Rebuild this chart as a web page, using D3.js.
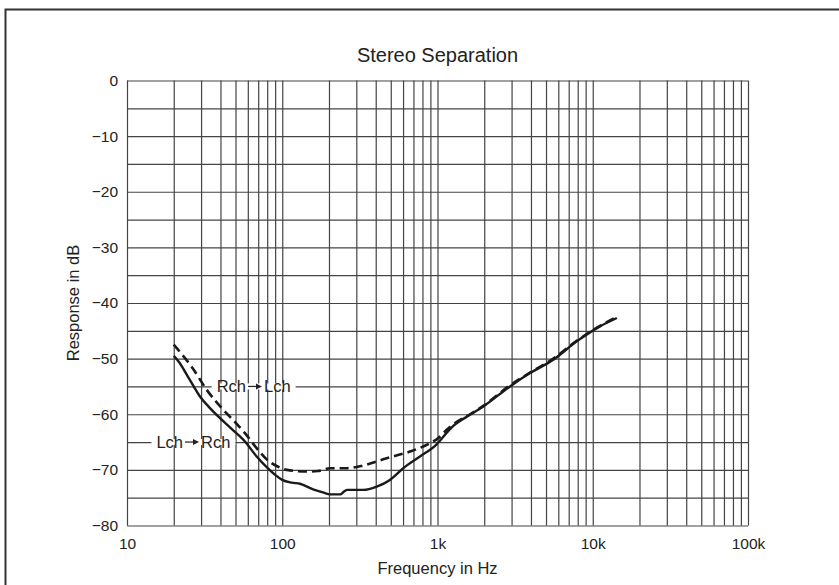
<!DOCTYPE html>
<html>
<head>
<meta charset="utf-8">
<script src="https://cdn.jsdelivr.net/npm/d3@7"></script>
<style>
  body { margin: 0; background: #fff; }
  svg { display: block; font-family: "Liberation Sans", Arial, sans-serif; }
  .grid line { stroke: #444; stroke-width: 1.2; }
  .grid path { display: none; }
  .axis path, .axis line { display: none; }
  .axis text { font-size: 15.5px; fill: #222; }
</style>
</head>
<body>
<div id="chart"></div>
<script>
// Lch -> Rch (solid)
var lchFreq = [20, 21.5, 25, 29.5, 34, 38.7, 47, 57.5, 68, 80, 90, 100, 115, 130, 158, 185, 203, 236, 250, 262, 333, 406, 494, 602, 771, 988, 1175, 1265, 1620, 1972, 2930, 3944, 5572, 7880, 11140, 14300];
var lchDb = [-49.5, -50.5, -53.5, -56.8, -58.8, -60.4, -62.6, -64.9, -67.5, -69.6, -70.9, -71.8, -72.3, -72.5, -73.5, -74.1, -74.4, -74.4, -73.9, -73.6, -73.6, -73.0, -71.8, -69.7, -67.6, -65.4, -63.0, -62.1, -60.1, -58.6, -55.0, -52.6, -50.2, -46.9, -44.2, -42.7];
// Rch -> Lch (dashed)
var rchFreq = [20, 23, 26, 32.6, 41.7, 50, 57.5, 68, 80, 92, 107, 144, 170, 203, 260, 333, 471, 665, 895, 1000, 1147, 1265, 1620, 1972, 2930, 3944, 5572, 7880, 11140, 14600];
var rchDb = [-47.5, -49.5, -51.4, -55.6, -59.2, -61.5, -63.4, -66.0, -68.2, -69.3, -70.0, -70.3, -70.2, -69.7, -69.7, -69.2, -67.9, -66.7, -65.2, -64.4, -62.8, -61.8, -60.0, -58.5, -54.8, -52.5, -50.0, -46.8, -44.1, -42.4];

var xMajor = [10, 100, 1000, 10000, 100000];
var xMajorLabels = ["10", "100", "1k", "10k", "100k"];
var yTicks = [0, -10, -20, -30, -40, -50, -60, -70, -80];

var W = 839, H = 585;
var margin = {top: 80.5, right: 91, bottom: 59.5, left: 127},
    width = W - margin.left - margin.right,
    height = H - margin.top - margin.bottom;

var x = d3.scaleLog().domain([10, 100000]).range([0, width]);
var y = d3.scaleLinear().domain([0, -80]).range([0, height]);

var svg = d3.select("#chart").append("svg")
    .attr("width", W)
    .attr("height", H);

// outer frame (only top and left edges fall inside the picture)
svg.append("path")
    .attr("d", "M5.5," + H + "V9.5H" + W)
    .attr("fill", "none")
    .attr("stroke", "#333")
    .attr("stroke-width", 2);

var g = svg.append("g")
    .attr("transform", "translate(" + margin.left + "," + margin.top + ")");

// vertical grid (all decades 10..100k)
var xGrid = [];
for (var d = 10; d < 100000; d *= 10) {
  for (var m = 1; m < 10; m++) xGrid.push(d * m);
}
xGrid.push(100000);
g.append("g")
    .attr("class", "grid")
    .call(d3.axisBottom(x).tickValues(xGrid).tickSize(height).tickFormat(""));

// horizontal grid every 5 dB
g.append("g")
    .attr("class", "grid")
    .call(d3.axisRight(y).tickValues(d3.range(0, -81, -5)).tickSize(width).tickFormat(""));

// axes labels
g.append("g")
    .attr("class", "axis")
    .call(d3.axisLeft(y).tickValues(yTicks).tickSize(0).tickPadding(9)
      .tickFormat(d3.format("d")));

g.append("g")
    .attr("class", "axis")
    .attr("transform", "translate(0," + height + ")")
    .call(d3.axisBottom(x).tickValues(xMajor).tickSize(0).tickPadding(12)
      .tickFormat(function (d, i) { return xMajorLabels[i]; }));

var line = d3.line()
    .x(function (d) { return x(d[0]); })
    .y(function (d) { return y(d[1]); })
    .curve(d3.curveMonotoneX);

var lchData = lchFreq.map(function (f, i) { return [f, lchDb[i]]; });
var rchData = rchFreq.map(function (f, i) { return [f, rchDb[i]]; });

// in-plot labels "A -> B" with white knockout on the gridline
function label(from, to, cx, db) {
  var yy = y(db);
  var bg = g.append("rect").attr("fill", "#fff");
  var lg = g.append("g");
  var t1 = lg.append("text")
      .attr("x", cx - 9).attr("y", yy).attr("dy", "0.36em")
      .attr("text-anchor", "end")
      .style("font-size", "16.5px").style("fill", "#222")
      .text(from);
  lg.append("line")
      .attr("x1", cx - 7).attr("x2", cx + 2)
      .attr("y1", yy).attr("y2", yy)
      .attr("stroke", "#222").attr("stroke-width", 1.2);
  lg.append("path")
      .attr("d", "M" + (cx + 7) + "," + yy + "L" + (cx + 1) + "," + (yy - 3) + "L" + (cx + 1) + "," + (yy + 3) + "Z")
      .attr("fill", "#222");
  lg.append("text")
      .attr("x", cx + 9).attr("y", yy).attr("dy", "0.36em")
      .attr("text-anchor", "start")
      .style("font-size", "16.5px").style("fill", "#222")
      .text(to);
  var bb = lg.node().getBBox();
  bg.attr("x", bb.x - 5)
    .attr("y", yy - 3)
    .attr("width", bb.width + 10)
    .attr("height", 6);
}
label("Rch", "Lch", 255 - margin.left, -55);
label("Lch", "Rch", 192 - margin.left, -65);

g.append("path")
    .datum(rchData)
    .attr("fill", "none")
    .attr("stroke", "#1a1a1a")
    .attr("stroke-width", 2.6)
    .attr("stroke-dasharray", "9,5")
    .attr("d", line);

g.append("path")
    .datum(lchData)
    .attr("fill", "none")
    .attr("stroke", "#1a1a1a")
    .attr("stroke-width", 2.4)
    .attr("d", line);

// titles
svg.append("text")
    .attr("x", margin.left + width / 2)
    .attr("y", 62)
    .attr("text-anchor", "middle")
    .style("font-size", "20px")
    .style("fill", "#222")
    .text("Stereo Separation");

svg.append("text")
    .attr("x", margin.left + width / 2)
    .attr("y", 574)
    .attr("text-anchor", "middle")
    .style("font-size", "16.5px")
    .style("fill", "#222")
    .text("Frequency in Hz");

svg.append("text")
    .attr("transform", "translate(79," + (margin.top + height / 2) + ") rotate(-90)")
    .attr("text-anchor", "middle")
    .style("font-size", "16.5px")
    .style("fill", "#222")
    .text("Response in dB");
</script>
</body>
</html>
